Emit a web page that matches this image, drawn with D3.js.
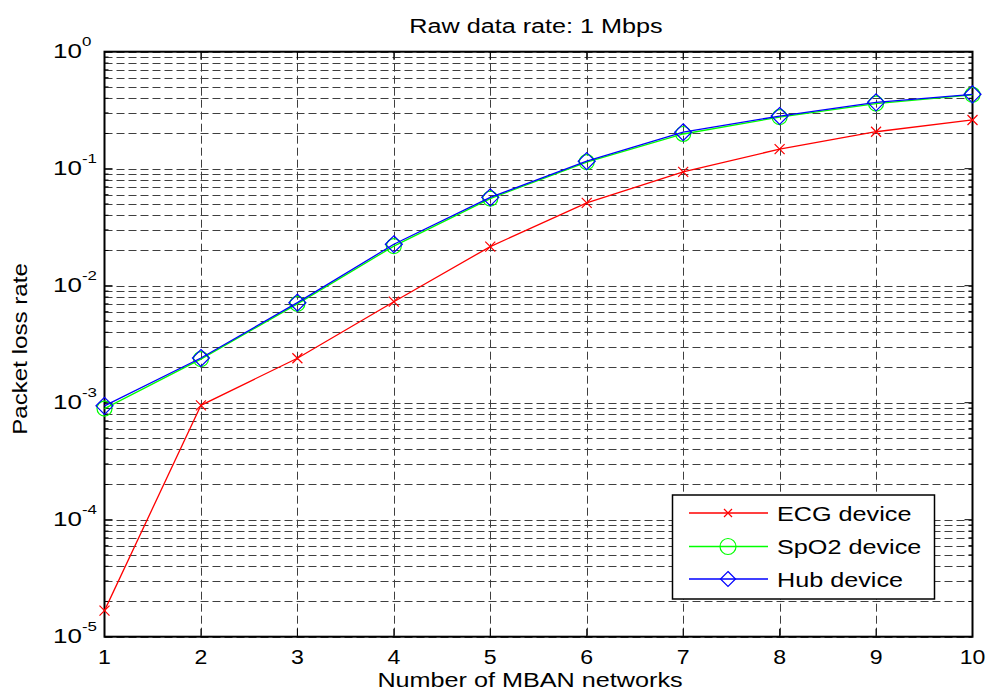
<!DOCTYPE html>
<html>
<head>
<meta charset="utf-8">
<script src="https://cdn.jsdelivr.net/npm/d3@7"></script>
<style>
  body { margin: 0; background: #fff; }
  text { font-family: "Liberation Sans", Arial, sans-serif; fill: #000; }
</style>
</head>
<body>
<svg width="988" height="693"></svg>
<script>
// Chart data
const networks = [1, 2, 3, 4, 5, 6, 7, 8, 9, 10];
const ecgLoss  = [1.67e-5, 9.5e-4, 2.4e-3, 7.3e-3, 0.0216, 0.051, 0.094, 0.147, 0.207, 0.261];
const spo2Loss = [8.9e-4, 2.36e-3, 7.0e-3, 0.0218, 0.0555, 0.114, 0.198, 0.276, 0.360, 0.428];
const hubLoss  = [9.4e-4, 2.41e-3, 7.16e-3, 0.0226, 0.0569, 0.116, 0.205, 0.282, 0.369, 0.432];
const yDecades = [-5, -4, -3, -2, -1, 0];

const series = [
  { name: "ECG device", values: ecgLoss, color: "#ff0000", marker: "x" },
  { name: "SpO2 device", values: spo2Loss, color: "#00ff00", marker: "o" },
  { name: "Hub device", values: hubLoss, color: "#0000ff", marker: "d" }
];

const svg = d3.select("svg");
const pLeft = 104.5, pRight = 972.5, pTop = 51.7, pBottom = 636.7;
const stretch = 1.2; // the source figure's text is horizontally stretched

const x = d3.scaleLinear().domain([1, 10]).range([pLeft, pRight]);
const y = d3.scaleLog().domain([1e-5, 1]).range([pBottom, pTop]);

// text placed at (tx, ty) and stretched horizontally
function label(parent, tx, ty, str, size, anchor, rot, sx) {
  const g = parent.append("g")
    .attr("transform", `translate(${tx},${ty})` + (rot ? ` rotate(${rot})` : "") + ` scale(${sx || stretch},1)`);
  return g.append("text").attr("text-anchor", anchor || "start").attr("font-size", size).text(str);
}

// minor values 2..9 per decade
const minorVals = [];
yDecades.slice(0, -1).forEach(e => {
  for (let k = 2; k <= 9; k++) minorVals.push(k * Math.pow(10, e));
});

const grid = svg.append("g").attr("stroke", "#000").attr("stroke-width", 1)
  .attr("stroke-dasharray", "8,4").attr("opacity", 0.75);

grid.selectAll(".hy").data(minorVals.concat(yDecades.map(e => Math.pow(10, e))))
  .join("line")
  .attr("x1", pLeft).attr("x2", pRight)
  .attr("y1", d => Math.round(y(d)) + 0.5).attr("y2", d => Math.round(y(d)) + 0.5);

grid.selectAll(".vx").data(networks.slice(1, -1))
  .join("line")
  .attr("y1", pTop).attr("y2", pBottom)
  .attr("x1", d => Math.round(x(d)) + 0.5).attr("x2", d => Math.round(x(d)) + 0.5);

// ticks on all sides
const ticks = svg.append("g").attr("stroke", "#000").attr("stroke-width", 1);
ticks.selectAll(".tx").data(networks).join("line")
  .attr("x1", d => x(d)).attr("x2", d => x(d)).attr("y1", pBottom).attr("y2", pBottom - 8);
ticks.selectAll(".tx2").data(networks).join("line")
  .attr("x1", d => x(d)).attr("x2", d => x(d)).attr("y1", pTop).attr("y2", pTop + 8);
const allY = yDecades.map(e => ({ v: Math.pow(10, e), len: 8 }))
  .concat(minorVals.map(v => ({ v, len: 4 })));
ticks.selectAll(".ty").data(allY).join("line")
  .attr("x1", pLeft).attr("x2", d => pLeft + d.len).attr("y1", d => y(d.v)).attr("y2", d => y(d.v));
ticks.selectAll(".ty2").data(allY).join("line")
  .attr("x1", pRight).attr("x2", d => pRight - d.len).attr("y1", d => y(d.v)).attr("y2", d => y(d.v));

// axes box
svg.append("rect").attr("x", pLeft).attr("y", pTop)
  .attr("width", pRight - pLeft).attr("height", pBottom - pTop)
  .attr("fill", "none").attr("stroke", "#000").attr("stroke-width", 2);

// x tick labels
const xl = svg.append("g");
networks.forEach(n => label(xl, x(n), pBottom + 27, n, 21, "middle", 0, 1.1));

// y tick labels with superscript exponent
const yl = svg.append("g");
yDecades.forEach(e => {
  const t = label(yl, 53, y(Math.pow(10, e)) + 6, "10", 20, "start", 0, 1.3);
  t.append("tspan").attr("dy", -12).attr("font-size", 13).text(e);
});

// titles
label(svg, 536, 33, "Raw data rate: 1 Mbps", 21, "middle");
label(svg, 530, 687, "Number of MBAN networks", 21, "middle");
label(svg, 27, 349, "Packet loss rate", 21, "middle", -90, 1.15);

// markers
function drawMarker(g, type, color, small) {
  if (type === "x") {
    const s = small ? 4 : 5;
    g.append("path").attr("d", `M${-s},${-s}L${s},${s}M${-s},${s}L${s},${-s}`)
      .attr("stroke", color).attr("stroke-width", 1.2).attr("fill", "none");
  } else if (type === "o") {
    g.append("circle").attr("r", small ? 8 : 7.5)
      .attr("stroke", color).attr("stroke-width", 1.2).attr("fill", "none");
  } else {
    const s = small ? 7.5 : 8.5;
    g.append("path").attr("d", `M0,${-s}L${s},0L0,${s}L${-s},0Z`)
      .attr("stroke", color).attr("stroke-width", 1.2).attr("fill", "none");
  }
}

const line = d3.line().x((d, i) => x(networks[i])).y(d => y(d));

series.forEach(s => {
  svg.append("path").datum(s.values).attr("d", line)
    .attr("fill", "none").attr("stroke", s.color).attr("stroke-width", 1.3);
  s.values.forEach((v, i) => {
    const g = svg.append("g").attr("transform", `translate(${x(networks[i])},${y(v)})`);
    drawMarker(g, s.marker, s.color);
  });
});

// legend
const lg = svg.append("g");
lg.append("rect").attr("x", 672.5).attr("y", 495).attr("width", 262).attr("height", 104)
  .attr("fill", "#fff").attr("stroke", "#000").attr("stroke-width", 1.5);
const rowY = [513, 546.5, 579];
series.forEach((s, i) => {
  lg.append("line").attr("x1", 689).attr("x2", 768).attr("y1", rowY[i]).attr("y2", rowY[i])
    .attr("stroke", s.color).attr("stroke-width", 1.3);
  const g = lg.append("g").attr("transform", `translate(728,${rowY[i]})`);
  drawMarker(g, s.marker, s.color, true);
  label(lg, 777, rowY[i] + 7.5, s.name, 21, "start");
});
</script>
</body>
</html>
